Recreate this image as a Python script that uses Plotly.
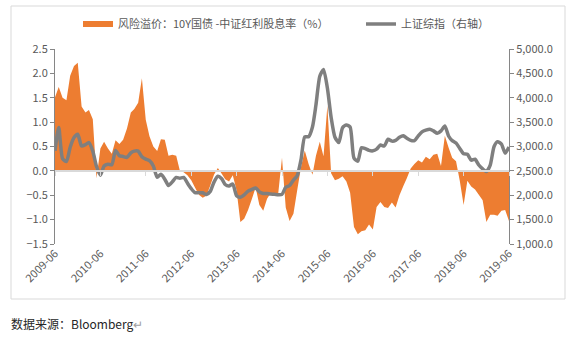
import pandas as pd
import plotly.graph_objects as go

# Monthly data, 2009-06 .. 2019-06
dates = pd.date_range("2009-06-01", periods=121, freq="MS")

premium = [
    1.51, 1.72, 1.50, 1.45, 1.95, 2.15, 2.22, 1.32, 1.20, 1.25,
    1.06, -0.15, 0.46, 0.60, 0.46, 0.35, 0.63, 0.55, 0.64, 0.87,
    1.20, 1.27, 1.40, 1.90, 1.05, 0.71, 0.50, 0.41, 0.65, 0.64,
    0.31, 0.33, 0.31, 0.01, -0.03, -0.09, -0.19, -0.34, -0.49, -0.55,
    -0.51, -0.30, -0.08, 0.06, -0.06, -0.17, -0.22, -0.09, -0.40, -1.05,
    -0.98, -0.80, -0.58, -0.34, -0.70, -0.82, -0.57, -0.46, -0.49, -0.48,
    0.27, -0.75, -1.03, -0.88, -0.40, 0.08, 0.42, 0.14, -0.08, 0.31,
    0.60, 0.30, 1.34, -0.05, -0.19, -0.16, -0.11, -0.22, -0.45, -1.15,
    -1.30, -1.24, -1.22, -1.10, -1.20, -0.74, -0.64, -0.74, -0.76, -0.65,
    -0.75, -0.50, -0.31, -0.15, 0.05, 0.14, 0.22, 0.17, 0.29, 0.24,
    0.33, 0.35, 0.10, 0.72, 0.47, 0.27, 0.20, -0.20, -0.70, -0.20,
    -0.32, -0.38, -0.49, -0.60, -1.05, -0.90, -0.90, -0.92, -0.82, -0.80,
    -1.03,
]

sh_index = [
    2911, 3390, 2750, 2690, 2985, 3185, 3250, 3010, 3040, 3080,
    2905, 2590, 2410, 2600, 2635, 2625, 2920, 2810, 2795, 2776,
    2870, 2905, 2905, 2790, 2740, 2710, 2600, 2370, 2431, 2330,
    2200, 2275, 2365, 2350, 2365, 2250, 2135, 2054, 2054, 2050,
    2015, 2080, 2270, 2390, 2340, 2220, 2191, 2230, 1990, 1960,
    2010, 2085, 2120, 2150, 2070, 2037, 2037, 2024, 2020, 2012,
    2018, 2165, 2200, 2310, 2400, 2730, 3200, 3200, 3400, 3850,
    4440, 4580, 4200, 3600, 3190, 3080, 3385, 3440, 3400, 2760,
    2700, 2975, 2955, 2920, 2911, 2945, 3030, 3010, 3150, 3110,
    3125, 3190, 3220, 3170, 3125, 3120, 3220, 3300, 3335, 3355,
    3320, 3270, 3320, 3420, 3210, 3120, 3070, 2960, 2850, 2840,
    2720, 2740, 2620, 2540, 2487, 2620, 3000, 3100, 3050, 2865,
    2990,
]

name_premium = "风险溢价：10Y国债 -中证红利股息率（%）"
name_index = "上证综指（右轴）"
caption = "数据来源：Bloomberg"

FONT = "Noto Sans CJK SC, Microsoft YaHei, sans-serif"
TXT = "#595959"
AXC = "#868686"

fig = go.Figure()
fig.add_trace(go.Scatter(
    x=dates, y=premium, name=name_premium, mode="none",
    fill="tozeroy", fillcolor="#ED7D31", legend="legend",
))
fig.add_trace(go.Scatter(
    x=dates, y=sh_index, name=name_index, mode="lines", yaxis="y2", legend="legend2",
    line=dict(color="#7F7F7F", width=3.5, shape="spline", smoothing=0.6),
))
# helper trace to carry the zero-level axis
fig.add_trace(go.Scatter(x=[dates[0]], y=[0], xaxis="x2", yaxis="y",
                         mode="none", showlegend=False, hoverinfo="skip"))

W, H = 568, 339
L, R, T, B = 55, 59, 49, 95
pw, ph = W - L - R, H - T - B

def px(x):
    return (x - L) / pw

def py(y):
    return (H - B - y) / ph

leg_common = dict(orientation="h", xanchor="left", yanchor="middle",
                  font=dict(size=11, color=TXT), bgcolor="rgba(0,0,0,0)",
                  itemclick=False, borderwidth=0)

fig.update_layout(
    width=W, height=H,
    margin=dict(l=L, r=R, t=T, b=B, pad=0, autoexpand=False),
    paper_bgcolor="white", plot_bgcolor="white",
    font=dict(family=FONT, size=11, color=TXT),
    showlegend=True,
    legend=dict(x=px(78), y=py(24), **leg_common),
    legend2=dict(x=px(361), y=py(24), **leg_common),
    xaxis=dict(
        type="date", range=[dates[0], dates[-1]],
        tick0="2009-06-01", dtick="M12", tickformat="%Y-%m", tickangle=-45,
        showgrid=False, zeroline=False, showline=False, ticks="",
        tickfont=dict(size=11, color=TXT),
    ),
    xaxis2=dict(
        type="date", overlaying="x", matches="x", anchor="free", position=0.375,
        tick0="2009-06-01", dtick="M12", showticklabels=False,
        showline=True, linecolor="#D9D9D9", linewidth=1.5,
        ticks="outside", ticklen=4, tickcolor="#D9D9D9", tickwidth=1,
        showgrid=False, zeroline=False, layer="above traces",
    ),
    yaxis=dict(
        range=[-1.5, 2.5], dtick=0.5, tickformat=".1f",
        showgrid=False, zeroline=False, showline=True, linecolor=AXC, linewidth=1,
        ticks="outside", ticklen=4, tickcolor=AXC, tickfont=dict(size=11, color=TXT),
    ),
    yaxis2=dict(
        range=[1000, 5000], dtick=500, tickformat=",.1f", overlaying="y", side="right",
        showgrid=False, zeroline=False, showline=True, linecolor=AXC, linewidth=1,
        ticks="outside", ticklen=4, tickcolor=AXC, tickfont=dict(size=11, color=TXT),
    ),
    shapes=[dict(type="rect", xref="paper", yref="paper",
                 x0=px(11), x1=px(565), y0=py(299), y1=py(6),
                 line=dict(color="#D9D9D9", width=1), layer="below")],
    annotations=[dict(
        xref="paper", yref="paper", x=px(9), y=py(323), xanchor="left", yanchor="middle",
        text=caption + "<span style='color:#A0A0A0'>↵</span>", showarrow=False,
        font=dict(size=12, color="#262626", family=FONT),
    )],
)

fig.write_html("out.html")
